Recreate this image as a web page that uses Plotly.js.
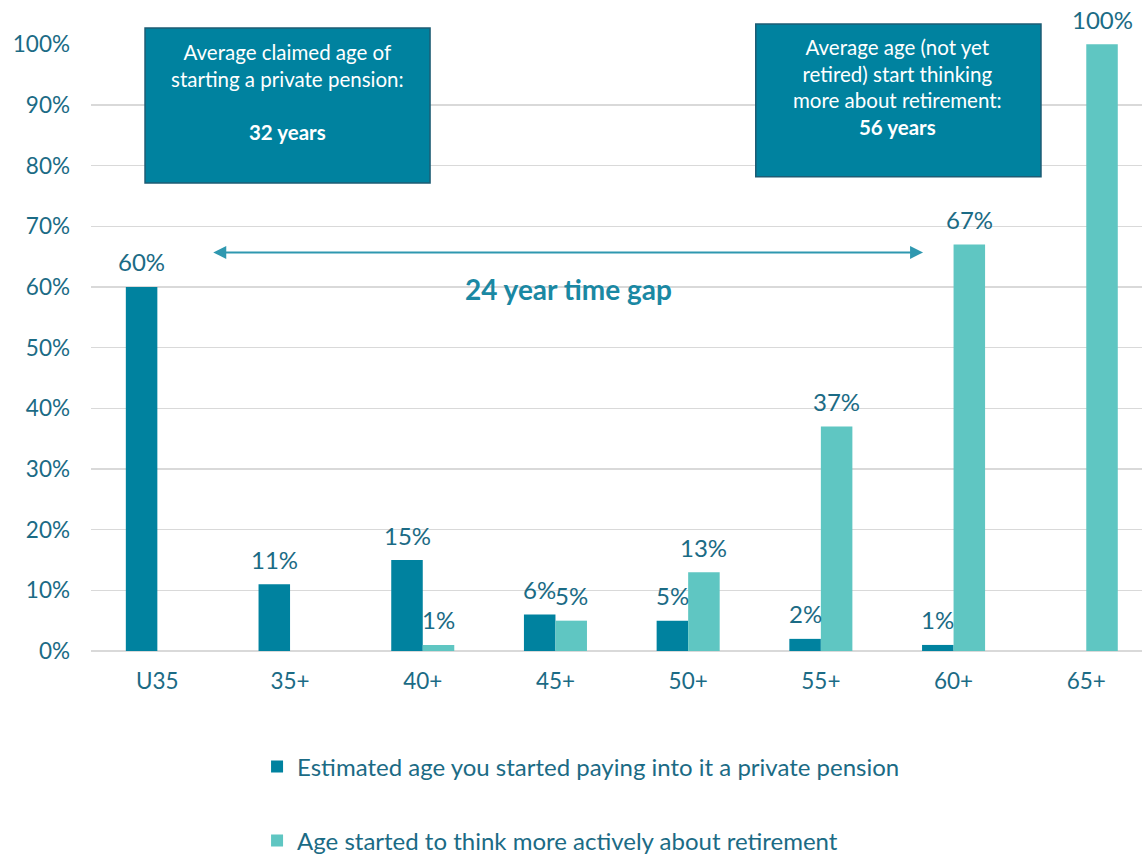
<!DOCTYPE html>
<html>
<head>
<meta charset="utf-8">
<script src="https://cdn.plot.ly/plotly-3.0.1.min.js"></script>
<style>html,body{margin:0;padding:0;background:#fff;}#chart{width:1142px;height:857px;}</style>
</head>
<body>
<div id="chart"></div>
<script>
const categories = ["U35", "35+", "40+", "45+", "50+", "55+", "60+", "65+"];
const pensionStart = [60, 11, 15, 6, 5, 2, 1, null];
const thinkingStart = [null, null, 1, 5, 13, 37, 67, 100];
const seriesNames = ["Estimated age you started paying into it a private pension", "Age started to think more actively about retirement"];
const yTicks = [0, 10, 20, 30, 40, 50, 60, 70, 80, 90, 100];
const yTickText = yTicks.map(v => v + "%");

const DARK = "#00829F";
const LIGHT = "#5FC6C2";
const TXT = "#1B6B85";
const FONT = "Lato, 'Open Sans', sans-serif";
const BARGAP = 0.525;
const half = (1 - BARGAP) / 4; // offset of each bar center from category center

const traces = [
  {type: "bar", name: seriesNames[0], x: categories, y: pensionStart, marker: {color: DARK}, legend: "legend", hoverinfo: "x+y"},
  {type: "bar", name: seriesNames[1], x: categories, y: thinkingStart, marker: {color: LIGHT}, legend: "legend2", hoverinfo: "x+y"}
];

const annotations = [];
[[pensionStart, -half], [thinkingStart, half]].forEach(([arr, off]) => {
  arr.forEach((v, i) => {
    if (v === null) return;
    annotations.push({x: i + off, y: v, xref: "x", yref: "y", text: v + "%", showarrow: false,
      yshift: 25, yanchor: "middle", font: {family: FONT, size: 24, color: TXT}});
  });
});

// double-headed time gap arrow
annotations.push({x: 5.77, y: 65.7, ax: 0.41, ay: 65.7, xref: "x", yref: "y", axref: "x", ayref: "y",
  text: "", showarrow: true, arrowside: "end+start", arrowhead: 2, arrowsize: 1.3, arrowwidth: 2,
  arrowcolor: "#2F98B0", standoff: 0, startstandoff: 0});
annotations.push({x: 3.095, y: 59.6, xref: "x", yref: "y", text: "<b>24 year time gap</b>", showarrow: false,
  font: {family: FONT, size: 28, color: "#1A88A3"}});

// text boxes
annotations.push({x: 0.187, y: 0.9217, xref: "paper", yref: "paper", xanchor: "center", yanchor: "middle",
  text: "Average claimed age of<br>starting a private pension:<br><br><b>32 years</b>", showarrow: false,
  font: {family: FONT, size: 20.5, color: "#ffffff"}, align: "center"});
annotations.push({x: 0.7678, y: 0.9295, xref: "paper", yref: "paper", xanchor: "center", yanchor: "middle",
  text: "Average age (not yet<br>retired) start thinking<br>more about retirement:<br><b>56 years</b>", showarrow: false,
  font: {family: FONT, size: 20.5, color: "#ffffff"}, align: "center"});

const shapes = [
  {type: "rect", xref: "paper", yref: "paper", x0: 0.0514, x1: 0.3226, y0: 0.771, y1: 1.0264,
    fillcolor: "#00829F", line: {color: "#1D5C74", width: 1.5}, layer: "above"},
  {type: "rect", xref: "paper", yref: "paper", x0: 0.6325, x1: 0.9039, y0: 0.7814, y1: 1.033,
    fillcolor: "#00829F", line: {color: "#1D5C74", width: 1.5}, layer: "above"}
];

const layout = {
  width: 1142, height: 857,
  margin: {l: 91, r: 0, t: 44, b: 206, autoexpand: false},
  paper_bgcolor: "#ffffff", plot_bgcolor: "#ffffff",
  font: {family: FONT, size: 22, color: TXT},
  barmode: "group", bargap: BARGAP, bargroupgap: 0,
  xaxis: {type: "category", range: [-0.5, 7.42], showgrid: false, zeroline: false, showline: false,
    ticks: "", tickfont: {family: FONT, size: 22.5, color: TXT}, ticklabelstandoff: 14, fixedrange: true, automargin: false},
  yaxis: {range: [0, 100.05], tickvals: yTicks, ticktext: yTickText, showgrid: true, gridcolor: "#D9D9D9", gridwidth: 1.5,
    zeroline: true, zerolinecolor: "#D9D9D9", zerolinewidth: 1.5, showline: false, ticks: "",
    tickfont: {family: FONT, size: 22.5, color: TXT}, ticklabelstandoff: 20, fixedrange: true, automargin: false},
  showlegend: true,
  legend: {x: 0.158, xanchor: "left", y: -0.1911, yanchor: "middle", orientation: "v", bgcolor: "rgba(0,0,0,0)",
    font: {family: FONT, size: 24, color: TXT}},
  legend2: {x: 0.158, xanchor: "left", y: -0.313, yanchor: "middle", orientation: "v", bgcolor: "rgba(0,0,0,0)",
    font: {family: FONT, size: 24, color: TXT}},
  annotations: annotations,
  shapes: shapes
};

Plotly.newPlot("chart", traces, layout, {displayModeBar: false, staticPlot: true});
</script>
</body>
</html>
